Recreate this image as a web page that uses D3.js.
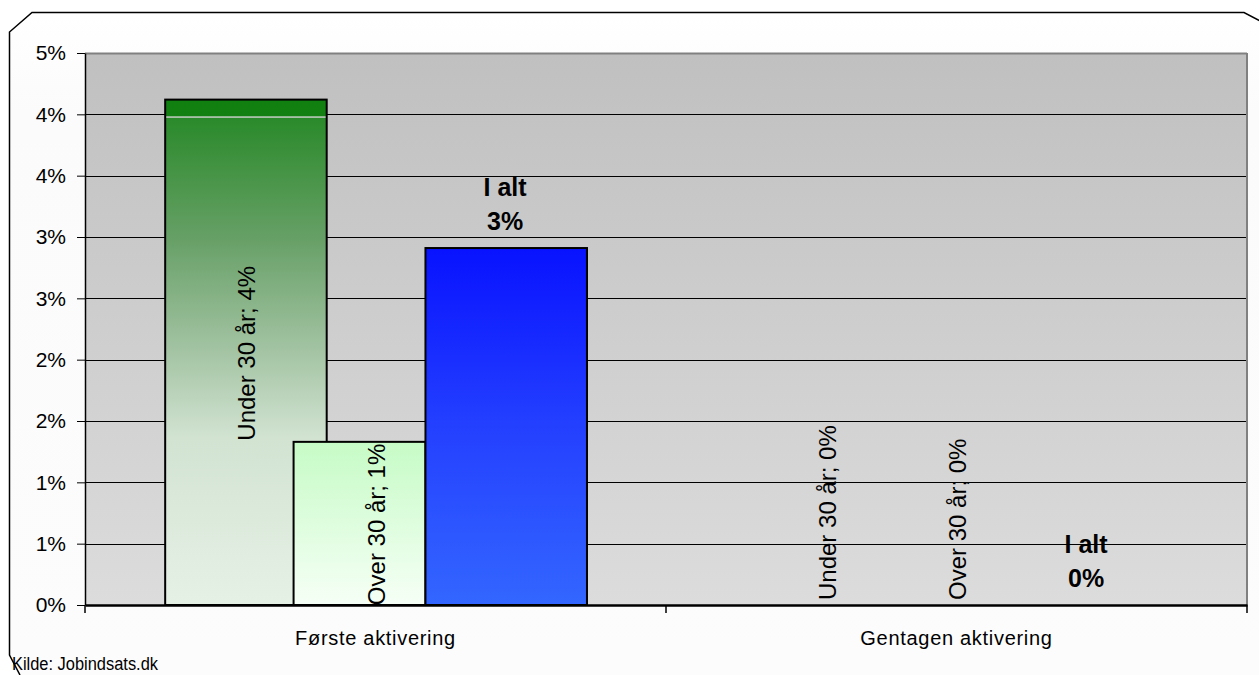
<!DOCTYPE html>
<html>
<head>
<meta charset="utf-8">
<script src="https://cdn.jsdelivr.net/npm/d3@7"></script>
<style>
body { margin: 0; background: #ffffff; }
text { font-family: Arial, "Liberation Sans", sans-serif; }
</style>
</head>
<body>
<script>
var width = 1259;
var height = 675;

// data
var categories = ["Første aktivering", "Gentagen aktivering"];
var seriesNames = ["Under 30 år", "Over 30 år", "I alt"];
var under30 = [0.0412, 0];
var over30 = [0.0133, 0];
var total = [0.0291, 0];
var tickValues = [0, 0.005, 0.01, 0.015, 0.02, 0.025, 0.03, 0.035, 0.04, 0.045];
var tickLabels = ["0%", "1%", "1%", "2%", "2%", "3%", "3%", "4%", "4%", "5%"];
var source = "Kilde: Jobindsats.dk";

// layout
var plot = {left: 85, right: 1247, top: 53, bottom: 605};
var slots = [[0.138, 0.416], [0.359, 0.586], [0.586, 0.864]]; // bar edges as share of category
var labelAt = [0.277, 0.501, 0.723];
var fills = ["url(#gUnder)", "url(#gOver)", "url(#gTotal)"];

var svg = d3.select("body")
.append("svg")
.attr("width", width)
.attr("height", height);

var defs = svg.append("defs");

function grad(id, stops){
	var g = defs.append("linearGradient")
	.attr("id", id)
	.attr("x1", 0).attr("y1", 0)
	.attr("x2", 0).attr("y2", 1);
	stops.forEach(function(s){
		g.append("stop").attr("offset", s[0]).attr("stop-color", s[1]);
	});
}
grad("gBack", [[0, "#c0c0c0"], [1, "#dcdcdc"]]);
grad("gUnder", [[0, "#108010"], [0.033, "#128012"], [0.0335, "#a8c0a8"], [0.036, "#a8c0a8"], [0.0365, "#2a8a2a"], [0.28, "#68a068"], [0.5, "#a4c4a4"], [0.67, "#d2e3d2"], [1, "#e6f1e6"]]);
grad("gOver", [[0, "#c6fbc6"], [1, "#f6fff6"]]);
grad("gTotal", [[0, "#0812ff"], [0.5, "#2440ff"], [1, "#3366ff"]]);
grad("gChart", [[0, "#ffffff"], [0.15, "#fbfbfb"], [1, "#fcfcfc"]]);

// chart area frame
svg.append("path")
.attr("d", "M32,12.5 L1244,12.5 L1262,22 L1262,675 L20,675 L9.5,655 L9.5,32 Z")
.attr("fill", "url(#gChart)")
.attr("stroke", "none");
svg.append("path")
.attr("d", "M1262,22 L1244,12.5 L32,12.5 L9.5,32 L9.5,655 L20,675")
.attr("fill", "none")
.attr("stroke", "#000")
.attr("stroke-width", 1.5);

var x = d3.scaleBand()
.domain(categories)
.range([plot.left, plot.right]);

var y = d3.scaleLinear()
.domain([0, 0.045])
.range([plot.bottom, plot.top]);

// plot background
svg.append("rect")
.attr("x", plot.left)
.attr("y", plot.top)
.attr("width", plot.right - plot.left)
.attr("height", plot.bottom - plot.top)
.attr("fill", "url(#gBack)");

// gridlines
svg.selectAll(".grid")
.data(tickValues.slice(1))
.enter()
.append("line")
.attr("x1", plot.left)
.attr("x2", plot.right)
.attr("y1", function(d){ return Math.round(y(d)) + 0.5; })
.attr("y2", function(d){ return Math.round(y(d)) + 0.5; })
.attr("stroke", function(d, i){ return i == tickValues.length - 2 ? "#808080" : "#000"; })
.attr("stroke-width", function(d, i){ return i == tickValues.length - 2 ? 2 : 1; });

svg.append("line")
.attr("x1", plot.right).attr("x2", plot.right)
.attr("y1", plot.top).attr("y2", plot.bottom)
.attr("stroke", "#808080")
.attr("stroke-width", 2);

// bars
var series = [under30, over30, total];
series.forEach(function(vals, s){
	svg.selectAll(".bar" + s)
	.data(vals)
	.enter()
	.append("rect")
	.attr("x", function(d, i){ return x(categories[i]) + x.bandwidth() * slots[s][0]; })
	.attr("y", function(d){ return y(d); })
	.attr("width", x.bandwidth() * (slots[s][1] - slots[s][0]))
	.attr("height", function(d){ return y(0) - y(d); })
	.attr("fill", fills[s])
	.attr("stroke", "#000")
	.attr("stroke-width", function(d){ return d > 0 ? 2 : 0; });
});

// y axis
var yAxis = d3.axisLeft(y)
.tickValues(tickValues)
.tickFormat(function(d, i){ return tickLabels[i]; })
.tickSize(8)
.tickSizeOuter(0)
.tickPadding(11);

var gy = svg.append("g")
.attr("transform", "translate(" + plot.left + ",0)")
.call(yAxis);
gy.select(".domain").attr("stroke", "#000").attr("stroke-width", 1.5);
gy.selectAll("line").attr("stroke", "#000");
gy.selectAll("text")
.attr("font-size", "21px")
.attr("fill", "#000")
.attr("font-family", "Arial, 'Liberation Sans', sans-serif");

// x axis
var xAxis = d3.axisBottom(x)
.tickValues([])
.tickSizeOuter(0);
var gx = svg.append("g")
.attr("transform", "translate(0," + plot.bottom + ")")
.call(xAxis);
gx.select(".domain").attr("stroke", "#000").attr("stroke-width", 2.5);

var edges = categories.map(function(c){ return x(c); }).concat([plot.right]);
svg.selectAll(".xtick")
.data(edges)
.enter()
.append("line")
.attr("x1", function(d){ return d; })
.attr("x2", function(d){ return d; })
.attr("y1", plot.bottom)
.attr("y2", plot.bottom + 8)
.attr("stroke", "#000")
.attr("stroke-width", 1.5);

svg.selectAll(".xlabel")
.data(categories)
.enter()
.append("text")
.attr("x", function(d){ return x(d) + x.bandwidth() / 2; })
.attr("y", 645)
.attr("text-anchor", "middle")
.attr("font-size", "20px")
.attr("letter-spacing", "0.7px")
.attr("fill", "#000")
.text(function(d){ return d; });

// data labels
var pct = d3.format(".0%");
[0, 1].forEach(function(s){
	svg.selectAll(".lab" + s)
	.data(series[s])
	.enter()
	.append("text")
	.attr("transform", function(d, i){
		var cx = x(categories[i]) + x.bandwidth() * labelAt[s];
		var cy = d > 0 ? (y(d) + y(0)) / 2 + 1 : y(0) - 5;
		return "translate(" + cx + "," + cy + ") rotate(-90)";
	})
	.attr("dy", "0.36em")
	.attr("text-anchor", function(d){ return d > 0 ? "middle" : "start"; })
	.attr("font-size", "24px")
	.attr("fill", "#000")
	.text(function(d){ return seriesNames[s] + "; " + pct(d); });
});

var tl = svg.selectAll(".totlab")
.data(total)
.enter()
.append("text")
.attr("x", function(d, i){ return x(categories[i]) + x.bandwidth() * labelAt[2]; })
.attr("y", function(d){ return y(d) - 52; })
.attr("text-anchor", "middle")
.attr("font-size", "25px")
.attr("font-weight", "bold")
.attr("fill", "#000");
tl.append("tspan")
.attr("x", function(d, i){ return x(categories[i]) + x.bandwidth() * labelAt[2]; })
.attr("dy", 0)
.text(seriesNames[2]);
tl.append("tspan")
.attr("x", function(d, i){ return x(categories[i]) + x.bandwidth() * labelAt[2]; })
.attr("dy", 34)
.text(function(d){ return pct(d); });

// source
svg.append("text")
.attr("x", 12)
.attr("y", 670)
.attr("font-size", "18px")
.attr("textLength", 146)
.attr("lengthAdjust", "spacingAndGlyphs")
.attr("fill", "#000")
.text(source);
</script>
</body>
</html>
